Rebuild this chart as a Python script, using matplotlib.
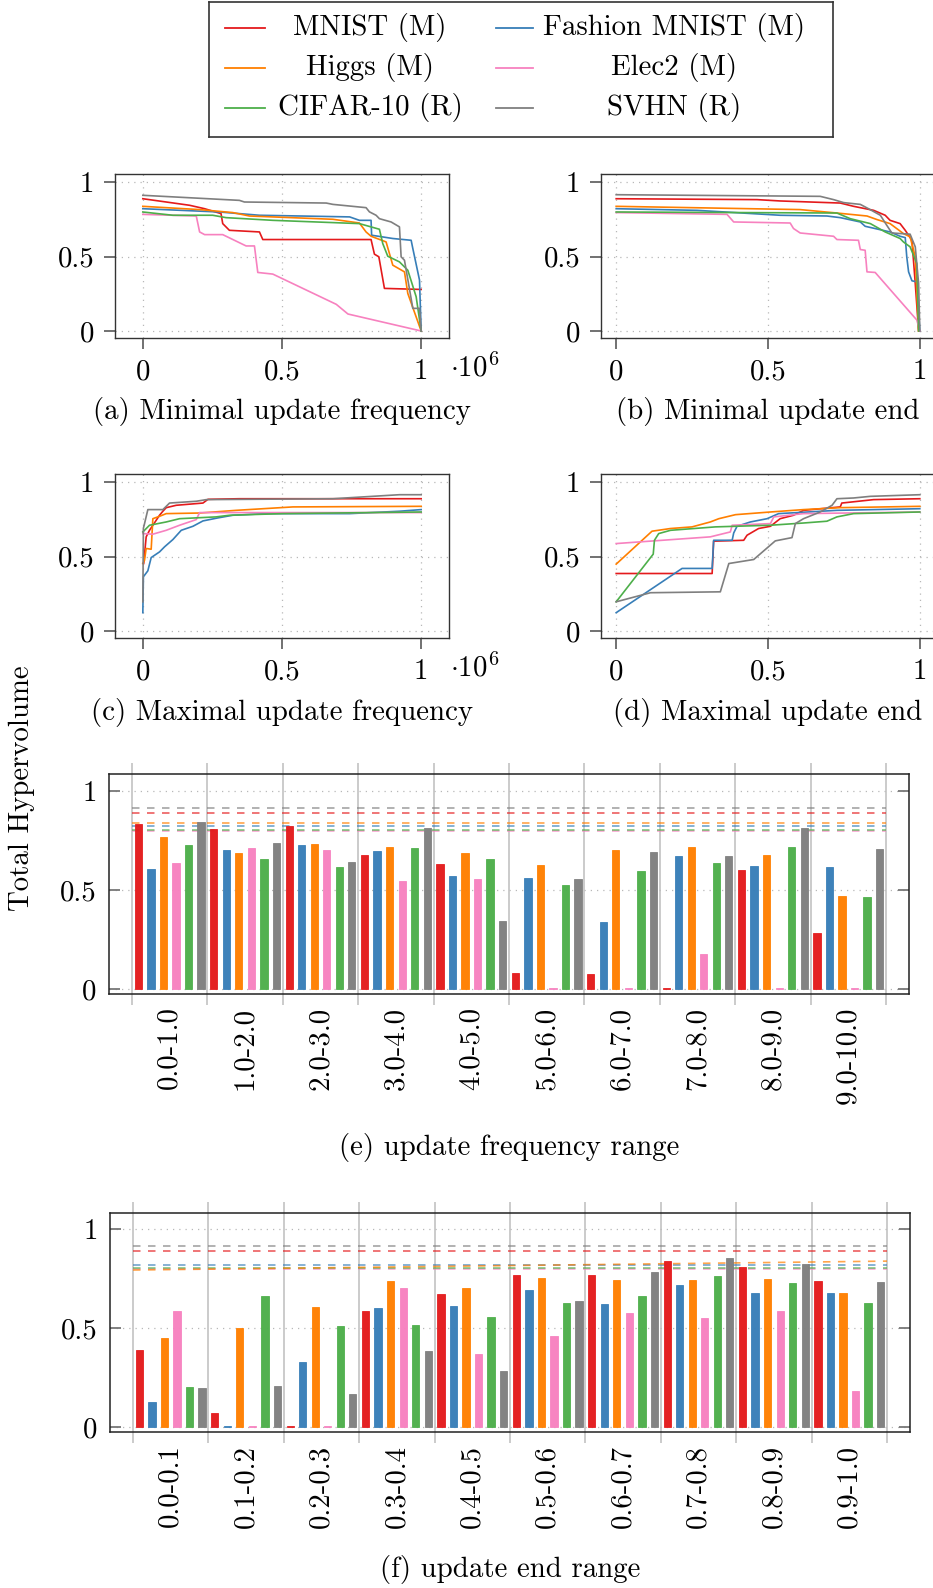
import numpy as np
import matplotlib.pyplot as plt

plt.rcParams['font.family'] = ['cmr10', 'DejaVu Serif']
plt.rcParams['mathtext.fontset'] = 'cm'
plt.rcParams['axes.unicode_minus'] = False
plt.rcParams['font.size'] = 20.8

W, H = 933, 1588

datasets = ['MNIST (M)', 'Fashion MNIST (M)', 'Higgs (M)', 'Elec2 (M)', 'CIFAR-10 (R)', 'SVHN (R)']
colors = ['#e41a1c', '#377eb8', '#ff7f00', '#f781bf', '#4daf4a', '#7f7f7f']

# hypervolume vs. minimal update frequency (x in 1e6 updates)
min_freq = {
    'MNIST (M)': [(0, 0.888), (0.084, 0.866), (0.168, 0.844), (0.222, 0.821), (0.281, 0.788), (0.287, 0.721),
                  (0.311, 0.676), (0.419, 0.665), (0.431, 0.614), (0.82, 0.614), (0.832, 0.516), (0.848, 0.498),
                  (0.868, 0.286), (1.0, 0.279)],
    'Fashion MNIST (M)': [(0, 0.821), (0.275, 0.799), (0.419, 0.777), (0.743, 0.766), (0.778, 0.743), (0.82, 0.743),
                          (0.822, 0.643), (0.898, 0.621), (0.964, 0.609), (0.97, 0.554), (0.994, 0.342), (1.0, 0.0)],
    'Higgs (M)': [(0, 0.837), (0.204, 0.815), (0.323, 0.795), (0.383, 0.772), (0.683, 0.75), (0.778, 0.725),
                  (0.802, 0.665), (0.82, 0.636), (0.874, 0.598), (0.898, 0.442), (0.94, 0.397), (0.952, 0.252),
                  (1.0, 0.0)],
    'Elec2 (M)': [(0, 0.783), (0.192, 0.772), (0.204, 0.665), (0.222, 0.647), (0.287, 0.647), (0.371, 0.571),
                  (0.401, 0.571), (0.413, 0.393), (0.467, 0.382), (0.695, 0.179), (0.737, 0.114), (1.0, 0.0)],
    'CIFAR-10 (R)': [(0, 0.799), (0.108, 0.777), (0.251, 0.777), (0.299, 0.761), (0.467, 0.743), (0.778, 0.721),
                     (0.85, 0.683), (0.862, 0.587), (0.88, 0.502), (0.922, 0.464), (0.952, 0.408), (0.982, 0.23),
                     (1.0, 0.0)],
    'SVHN (R)': [(0, 0.911), (0.347, 0.877), (0.365, 0.866), (0.659, 0.859), (0.683, 0.85), (0.802, 0.828),
                 (0.814, 0.8), (0.838, 0.777), (0.85, 0.754), (0.892, 0.732), (0.922, 0.699), (0.928, 0.498),
                 (0.94, 0.475), (0.97, 0.152), (0.994, 0.152), (1.0, 0.0)],
}

# hypervolume vs. minimal update end
min_end = {
    'MNIST (M)': [(0, 0.888), (0.464, 0.882), (0.54, 0.873), (0.738, 0.859), (0.782, 0.837), (0.848, 0.81),
                  (0.886, 0.777), (0.902, 0.743), (0.935, 0.721), (0.952, 0.676), (0.974, 0.609), (0.985, 0.319),
                  (0.996, 0.0)],
    'Fashion MNIST (M)': [(0, 0.821), (0.266, 0.81), (0.54, 0.777), (0.694, 0.772), (0.738, 0.761), (0.804, 0.732),
                          (0.82, 0.703), (0.902, 0.665), (0.935, 0.636), (0.952, 0.627), (0.957, 0.498),
                          (0.963, 0.397), (0.974, 0.337), (0.99, 0.33), (1.0, 0.0)],
    'Higgs (M)': [(0, 0.837), (0.606, 0.815), (0.727, 0.792), (0.826, 0.772), (0.859, 0.748), (0.902, 0.721),
                  (0.946, 0.654), (0.968, 0.632), (0.985, 0.498), (0.996, 0.0)],
    'Elec2 (M)': [(0, 0.795), (0.365, 0.783), (0.387, 0.732), (0.573, 0.725), (0.584, 0.688), (0.606, 0.658),
                  (0.716, 0.636), (0.727, 0.614), (0.798, 0.609), (0.804, 0.547), (0.82, 0.542), (0.826, 0.397),
                  (0.853, 0.393), (0.99, 0.074), (1.0, 0.0)],
    'CIFAR-10 (R)': [(0, 0.799), (0.727, 0.792), (0.771, 0.754), (0.837, 0.721), (0.886, 0.665), (0.935, 0.621),
                     (0.946, 0.598), (0.968, 0.565), (0.99, 0.453), (0.996, 0.0)],
    'SVHN (R)': [(0, 0.915), (0.672, 0.904), (0.716, 0.882), (0.749, 0.862), (0.804, 0.85), (0.831, 0.821),
                 (0.87, 0.777), (0.891, 0.71), (0.908, 0.658), (0.968, 0.65), (0.985, 0.565), (0.996, 0.319),
                 (1.0, 0.0)],
}

# hypervolume vs. maximal update frequency (x in 1e6 updates)
max_freq = {
    'MNIST (M)': [(0.003, 0.453), (0.012, 0.632), (0.024, 0.676), (0.06, 0.777), (0.072, 0.804), (0.084, 0.828),
                  (0.12, 0.844), (0.216, 0.859), (0.234, 0.884), (0.347, 0.888), (1.0, 0.888)],
    'Fashion MNIST (M)': [(0, 0.123), (0.002, 0.364), (0.018, 0.404), (0.03, 0.493), (0.06, 0.531), (0.078, 0.565),
                          (0.108, 0.614), (0.138, 0.676), (0.18, 0.703), (0.216, 0.739), (0.269, 0.759),
                          (0.323, 0.777), (0.443, 0.788), (0.743, 0.788), (0.922, 0.804), (1.0, 0.815)],
    'Higgs (M)': [(0, 0.453), (0.006, 0.475), (0.012, 0.554), (0.03, 0.549), (0.036, 0.754), (0.06, 0.77),
                  (0.084, 0.788), (0.204, 0.792), (0.335, 0.81), (0.539, 0.833), (1.0, 0.837)],
    'Elec2 (M)': [(0, 0.654), (0.036, 0.65), (0.084, 0.676), (0.132, 0.71), (0.192, 0.748), (0.204, 0.795),
                  (1.0, 0.795)],
    'CIFAR-10 (R)': [(0, 0.665), (0.024, 0.71), (0.084, 0.732), (0.132, 0.754), (0.263, 0.766), (0.311, 0.777),
                     (0.503, 0.788), (1.0, 0.799)],
    'SVHN (R)': [(0, 0.196), (0.002, 0.69), (0.006, 0.72), (0.018, 0.815), (0.072, 0.815), (0.096, 0.859),
                 (0.192, 0.871), (0.228, 0.882), (0.683, 0.888), (0.922, 0.915), (1.0, 0.915)],
}

# hypervolume vs. maximal update end
max_end = {
    'MNIST (M)': [(0, 0.386), (0.316, 0.386), (0.321, 0.603), (0.42, 0.609), (0.431, 0.643), (0.469, 0.688),
                  (0.508, 0.703), (0.54, 0.754), (0.584, 0.777), (0.617, 0.81), (0.738, 0.833), (0.743, 0.859),
                  (0.848, 0.882), (1.0, 0.888)],
    'Fashion MNIST (M)': [(0, 0.123), (0.217, 0.42), (0.316, 0.42), (0.321, 0.609), (0.382, 0.609), (0.387, 0.658),
                          (0.398, 0.703), (0.442, 0.732), (0.497, 0.754), (0.535, 0.788), (0.727, 0.81),
                          (1.0, 0.821)],
    'Higgs (M)': [(0, 0.449), (0.118, 0.67), (0.179, 0.688), (0.25, 0.699), (0.31, 0.732), (0.338, 0.754),
                  (0.393, 0.781), (0.508, 0.799), (0.617, 0.815), (0.738, 0.828), (1.0, 0.837)],
    'Elec2 (M)': [(0, 0.587), (0.31, 0.632), (0.376, 0.665), (0.382, 0.71), (0.508, 0.721), (0.519, 0.766),
                  (0.617, 0.788), (1.0, 0.799)],
    'CIFAR-10 (R)': [(0, 0.196), (0.122, 0.516), (0.126, 0.609), (0.14, 0.654), (0.179, 0.676), (0.327, 0.699),
                     (0.508, 0.71), (0.617, 0.725), (0.694, 0.737), (0.727, 0.766), (0.782, 0.788), (1.0, 0.799)],
    'SVHN (R)': [(0, 0.196), (0.113, 0.257), (0.343, 0.263), (0.371, 0.453), (0.453, 0.48), (0.524, 0.605),
                 (0.579, 0.627), (0.59, 0.721), (0.617, 0.754), (0.672, 0.799), (0.711, 0.844), (0.727, 0.888),
                 (0.782, 0.893), (0.837, 0.904), (1.0, 0.915)],
}

freq_ranges = ['0.0-1.0', '1.0-2.0', '2.0-3.0', '3.0-4.0', '4.0-5.0',
               '5.0-6.0', '6.0-7.0', '7.0-8.0', '8.0-9.0', '9.0-10.0']
end_ranges = ['0.0-0.1', '0.1-0.2', '0.2-0.3', '0.3-0.4', '0.4-0.5',
              '0.5-0.6', '0.6-0.7', '0.7-0.8', '0.8-0.9', '0.9-1.0']

hv_freq = {
    'MNIST (M)': [0.832, 0.808, 0.822, 0.678, 0.633, 0.081, 0.076, 0.005, 0.599, 0.284],
    'Fashion MNIST (M)': [0.606, 0.700, 0.727, 0.697, 0.571, 0.559, 0.338, 0.672, 0.620, 0.618],
    'Higgs (M)': [0.768, 0.687, 0.732, 0.717, 0.687, 0.626, 0.700, 0.716, 0.678, 0.470],
    'Elec2 (M)': [0.638, 0.714, 0.702, 0.547, 0.554, 0.005, 0.005, 0.178, 0.005, 0.005],
    'CIFAR-10 (R)': [0.729, 0.655, 0.616, 0.711, 0.657, 0.524, 0.596, 0.636, 0.716, 0.465],
    'SVHN (R)': [0.843, 0.737, 0.643, 0.813, 0.345, 0.554, 0.692, 0.672, 0.813, 0.709],
}
hv_end = {
    'MNIST (M)': [0.388, 0.071, 0.004, 0.588, 0.674, 0.770, 0.770, 0.837, 0.810, 0.736],
    'Fashion MNIST (M)': [0.124, 0.004, 0.331, 0.600, 0.612, 0.694, 0.620, 0.716, 0.676, 0.679],
    'Higgs (M)': [0.450, 0.501, 0.605, 0.740, 0.703, 0.751, 0.745, 0.745, 0.748, 0.679],
    'Elec2 (M)': [0.587, 0.004, 0.004, 0.701, 0.370, 0.460, 0.578, 0.550, 0.588, 0.180],
    'CIFAR-10 (R)': [0.202, 0.664, 0.508, 0.514, 0.555, 0.629, 0.661, 0.761, 0.730, 0.629],
    'SVHN (R)': [0.197, 0.207, 0.165, 0.382, 0.284, 0.639, 0.782, 0.852, 0.824, 0.731],
}

# reference hypervolume of each dataset (start, end of the dashed line)
ref_freq = {
    'MNIST (M)': (0.891, 0.891), 'Fashion MNIST (M)': (0.822, 0.822), 'Higgs (M)': (0.838, 0.838),
    'Elec2 (M)': (0.800, 0.800), 'CIFAR-10 (R)': (0.801, 0.801), 'SVHN (R)': (0.916, 0.916),
}
ref_end = {
    'MNIST (M)': (0.889, 0.889), 'Fashion MNIST (M)': (0.818, 0.818), 'Higgs (M)': (0.793, 0.838),
    'Elec2 (M)': (0.800, 0.800), 'CIFAR-10 (R)': (0.803, 0.803), 'SVHN (R)': (0.914, 0.914),
}


def px_rect(x0, y0, x1, y1):
    return [x0 / W, 1 - y1 / H, (x1 - x0) / W, (y1 - y0) / H]


def line_panel(rect, curves, xlim):
    ax = fig.add_axes(px_rect(*rect))
    for name, color in zip(datasets, colors):
        pts = np.array(curves[name])
        ax.plot(pts[:, 0], pts[:, 1], color=color, lw=1.2)
    ax.set_xlim(*xlim)
    ax.set_ylim(-0.047, 1.054)
    ax.set_xticks([0, 0.5, 1])
    ax.set_xticklabels(['0', '0.5', '1'])
    ax.set_yticks([0, 0.5, 1])
    ax.set_yticklabels(['0', '0.5', '1'])
    ax.grid(True, ls=(0, (1, 4)), color='#b8b8b8', lw=0.9)
    ax.tick_params(direction='out', length=8, width=1.3, color='#666666', pad=7)
    for s in ax.spines.values():
        s.set_color('#333333')
        s.set_linewidth(1.0)
    return ax


def bar_panel(rect, values, refs, labels, ylim):
    ax = fig.add_axes(px_rect(*rect))
    idx = np.arange(len(labels))
    for k, (name, color) in enumerate(zip(datasets, colors)):
        ax.bar(idx + (k - 2.5) * 0.166, values[name], width=0.097, color=color,
               edgecolor=color, linewidth=0.6, alpha=0.97, zorder=3)
    order = [3, 4, 1, 2, 0, 5]
    for k in order:
        y0, y1 = refs[datasets[k]]
        ax.plot([idx[0] - 0.5, idx[-1] + 0.5], [y0, y1], color=colors[k], lw=1.2,
                ls=(0, (4.5, 4.5)), alpha=0.7, zorder=2)
    bounds = np.arange(len(labels) + 1) - 0.5
    ax.vlines(bounds, -0.05, 1.05, transform=ax.get_xaxis_transform(), color='#bdbdbd',
              lw=1.1, clip_on=False, zorder=1)
    ax.set_xlim(-0.805, len(labels) - 0.195)
    ax.set_ylim(*ylim)
    ax.set_xticks(idx)
    ax.set_xticklabels(labels, rotation=90)
    ax.tick_params(axis='x', length=0, pad=9)
    ax.set_yticks([0, 0.5, 1])
    ax.set_yticklabels(['0', '0.5', '1'])
    ax.tick_params(axis='y', direction='in', length=8, width=1.3, color='#777777', pad=9,
                   right=True)
    ax.yaxis.grid(True, ls=(0, (1, 4)), color='#b8b8b8', lw=0.9, zorder=0)
    ax.set_axisbelow(True)
    for s in ax.spines.values():
        s.set_color('#222222')
        s.set_linewidth(1.1)
    return ax


fig = plt.figure(figsize=(W / 100, H / 100), dpi=100)

# legend box drawn in pixel coordinates
lg = fig.add_axes(px_rect(209, 2, 833, 137))
lg.set_xlim(209, 833)
lg.set_ylim(137, 2)
lg.set_xticks([])
lg.set_yticks([])
for s in lg.spines.values():
    s.set_color('#333333')
    s.set_linewidth(1.2)
rows = [28, 68, 108]
for k, (name, color) in enumerate(zip(datasets, colors)):
    row, col = divmod(k, 2)
    lx = [225, 265] if col == 0 else [496, 533]
    tx = 370 if col == 0 else 674
    lg.plot(lx, [rows[row], rows[row]], color=color, lw=1.3)
    lg.text(tx, rows[row], name, ha='center', va='center')

line_panel((115, 174, 449, 338), min_freq, (-0.1, 1.1))
line_panel((601, 174, 935, 338), min_end, (-0.05, 1.05))
line_panel((115, 474, 449, 638), max_freq, (-0.1, 1.1))
line_panel((601, 474, 935, 638), max_end, (-0.05, 1.05))

for yy in (368, 668):
    fig.text(450 / W, 1 - yy / H, r'$\cdot10^{6}$', ha='left', va='center')

bar_panel((109, 774, 909, 994), hv_freq, ref_freq, freq_ranges, (-0.025, 1.086))
bar_panel((110, 1213, 910, 1432), hv_end, ref_end, end_ranges, (-0.025, 1.081))

captions = [
    (282, 412, '(a) Minimal update frequency'),
    (768, 412, '(b) Minimal update end'),
    (282, 712, '(c) Maximal update frequency'),
    (768, 712, '(d) Maximal update end'),
    (509, 1148, '(e) update frequency range'),
    (510, 1570, '(f) update end range'),
]
for x, y, t in captions:
    fig.text(x / W, 1 - y / H, t, ha='center', va='center')

fig.text(22 / W, 1 - 788 / H, 'Total Hypervolume', rotation=90, ha='center', va='center')

fig.savefig('out.png', dpi=100)
